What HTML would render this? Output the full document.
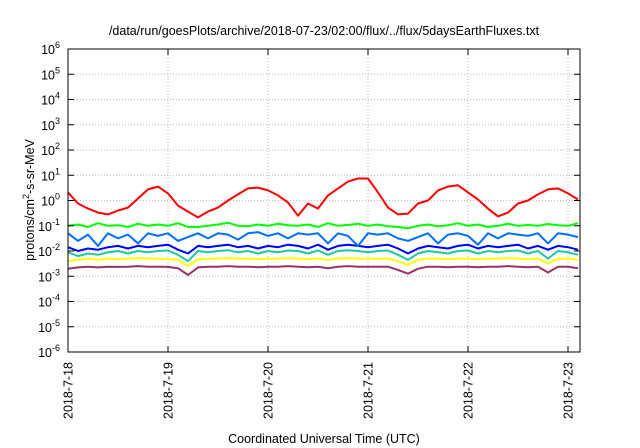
<!DOCTYPE html>
<html><head><meta charset="utf-8"><style>
html,body{margin:0;padding:0;background:#fff;}
svg{display:block;font-family:"Liberation Sans",Arial,sans-serif;}
</style></head><body>
<svg id="chart" width="640" height="448" viewBox="0 0 640 448" xmlns="http://www.w3.org/2000/svg">
<text x="324" y="35" font-size="12.5" text-anchor="middle" fill="#000">/data/run/goesPlots/archive/2018-07-23/02:00/flux/../flux/5daysEarthFluxes.txt</text>
<text x="324" y="443" font-size="12.5" text-anchor="middle" fill="#000">Coordinated Universal Time (UTC)</text>
<text transform="translate(34,200) rotate(-90)" font-size="12.5" text-anchor="middle" fill="#000">protons/cm<tspan baseline-shift="super" font-size="9">2</tspan>-s-sr-MeV</text>
<g id="grid"></g>
<g id="series"></g>
<rect x="68" y="49" width="512" height="303" fill="none" stroke="#000" stroke-width="1"/>
<g id="axes"></g>
</svg>
<script>
const xTickLabels = ["2018-7-18","2018-7-19","2018-7-20","2018-7-21","2018-7-22","2018-7-23"];
const yExponents = [-6,-5,-4,-3,-2,-1,0,1,2,3,4,5,6];
const timeStep = 0.1;
const red = [0.32,-0.12,-0.32,-0.48,-0.55,-0.4,-0.28,0.08,0.44,0.55,0.28,-0.2,-0.44,-0.67,-0.44,-0.28,0,0.24,0.48,0.51,0.4,0.2,-0.08,-0.6,-0.12,-0.32,0.2,0.48,0.75,0.87,0.87,0.32,-0.28,-0.55,-0.52,-0.12,0,0.4,0.55,0.6,0.32,0.04,-0.32,-0.63,-0.48,-0.12,0,0.24,0.44,0.48,0.28,0.04];
const green = [-1.0,-0.95,-1.05,-0.9,-1.0,-0.98,-1.05,-0.92,-1.0,-0.95,-1.0,-0.9,-1.05,-1.05,-1.0,-0.95,-0.88,-1.0,-1.02,-0.95,-1.0,-0.92,-0.98,-1.0,-0.95,-1.05,-0.9,-1.0,-0.97,-0.92,-1.0,-0.95,-1.02,-1.05,-1.1,-1.0,-0.95,-1.02,-0.98,-0.9,-1.0,-0.95,-1.05,-1.0,-0.92,-1.0,-0.97,-1.0,-0.93,-0.98,-1.0,-0.9];
const lightBlue = [-1.3,-1.6,-1.35,-1.8,-1.3,-1.5,-1.35,-1.7,-1.3,-1.4,-1.3,-1.6,-1.45,-1.3,-1.5,-1.3,-1.35,-1.55,-1.3,-1.25,-1.4,-1.3,-1.5,-1.3,-1.35,-1.3,-1.7,-1.3,-1.4,-1.8,-1.3,-1.35,-1.3,-1.5,-1.6,-1.45,-1.3,-1.7,-1.35,-1.3,-1.4,-1.75,-1.3,-1.5,-1.3,-1.35,-1.4,-1.3,-1.7,-1.3,-1.35,-1.45];
const blue = [-1.85,-2.0,-1.9,-1.95,-1.85,-1.8,-1.9,-1.8,-1.85,-1.8,-1.75,-1.95,-2.1,-1.8,-1.85,-1.8,-1.75,-1.85,-1.8,-1.9,-1.8,-1.85,-1.75,-1.8,-1.9,-1.75,-1.95,-1.8,-1.75,-1.8,-1.85,-1.8,-1.75,-1.9,-2.1,-1.9,-1.8,-1.85,-1.9,-1.8,-1.75,-1.9,-1.8,-1.85,-1.8,-1.75,-1.9,-1.8,-1.95,-1.8,-1.85,-1.95];
const teal = [-2.05,-2.2,-2.1,-2.15,-2.05,-2.0,-2.1,-2.0,-2.05,-2.0,-1.98,-2.15,-2.4,-2.0,-2.05,-2.0,-1.97,-2.05,-2.0,-2.1,-2.0,-2.05,-1.98,-2.0,-2.1,-1.98,-2.15,-2.0,-1.97,-2.0,-2.05,-2.0,-1.98,-2.15,-2.35,-2.1,-2.0,-2.05,-2.1,-2.0,-1.98,-2.1,-2.0,-2.05,-2.0,-1.98,-2.1,-2.0,-2.3,-2.0,-2.05,-2.15];
const yellow = [-2.4,-2.35,-2.3,-2.35,-2.3,-2.32,-2.3,-2.28,-2.3,-2.3,-2.32,-2.35,-2.6,-2.33,-2.3,-2.3,-2.28,-2.3,-2.3,-2.32,-2.3,-2.3,-2.28,-2.3,-2.32,-2.3,-2.35,-2.3,-2.28,-2.3,-2.3,-2.3,-2.3,-2.4,-2.55,-2.35,-2.3,-2.3,-2.32,-2.3,-2.3,-2.32,-2.3,-2.3,-2.28,-2.3,-2.32,-2.3,-2.5,-2.3,-2.3,-2.35];
const purple = [-2.7,-2.65,-2.62,-2.65,-2.62,-2.63,-2.62,-2.6,-2.62,-2.62,-2.63,-2.68,-2.95,-2.65,-2.62,-2.62,-2.6,-2.62,-2.62,-2.64,-2.62,-2.62,-2.6,-2.62,-2.64,-2.62,-2.68,-2.62,-2.6,-2.62,-2.62,-2.62,-2.62,-2.75,-2.9,-2.7,-2.62,-2.62,-2.64,-2.62,-2.62,-2.64,-2.62,-2.62,-2.6,-2.62,-2.64,-2.62,-2.85,-2.62,-2.62,-2.68];

const X0=68, X1=580, Y0=49, Y1=352, DAYW=100;
function xScale(t){return X0 + t*DAYW;}
function yScale(lg){return Y1 - (lg - (-6))*(Y1-Y0)/12;}
const NS="http://www.w3.org/2000/svg";
function mk(tag){return document.createElementNS(NS,tag);}
const grid=document.getElementById('grid'), axes=document.getElementById('axes'), ser=document.getElementById('series');

yExponents.forEach(e=>{
  const y=yScale(e);
  if(e>-6 && e<6){
    const g=mk('line');
    
    
    g.setAttribute('x1',X0);g.setAttribute('x2',X1);g.setAttribute('y1',y);g.setAttribute('y2',y);
    g.setAttribute('stroke','#bbb');g.setAttribute('stroke-dasharray','1,2');grid.appendChild(g);
  }
  [[X0,X0+6],[X1-6,X1]].forEach(p=>{
    const tk=mk('line');
    
    
    tk.setAttribute('x1',p[0]);tk.setAttribute('x2',p[1]);tk.setAttribute('y1',y);tk.setAttribute('y2',y);
    tk.setAttribute('stroke','#000');axes.appendChild(tk);
  });
  const tx=mk('text');
  
  
  tx.setAttribute('x',X0-8);tx.setAttribute('y',y+5);tx.setAttribute('text-anchor','end');tx.setAttribute('font-size','12.5');
  tx.innerHTML='10<tspan font-size="9" dy="-6">'+e+'</tspan>';
  axes.appendChild(tx);
});

xTickLabels.forEach((lab,i)=>{
  const x=xScale(i);
  if(i>0){
    const g=mk('line');
    
    
    g.setAttribute('x1',x);g.setAttribute('x2',x);g.setAttribute('y1',Y0);g.setAttribute('y2',Y1);
    g.setAttribute('stroke','#bbb');g.setAttribute('stroke-dasharray','1,2');grid.appendChild(g);
  }
  [[Y1-6,Y1],[Y0,Y0+6]].forEach(p=>{
    const tk=mk('line');
    
    
    tk.setAttribute('x1',x);tk.setAttribute('x2',x);tk.setAttribute('y1',p[0]);tk.setAttribute('y2',p[1]);
    tk.setAttribute('stroke','#000');axes.appendChild(tk);
  });
  const tx=mk('text');
  
  
  tx.setAttribute('transform','translate('+(x+4.5)+','+(Y1+10)+') rotate(-90)');
  tx.setAttribute('text-anchor','end');tx.setAttribute('font-size','12.5');
  tx.textContent=lab;axes.appendChild(tx);
});

const seriesList=[[purple,'#993366','series-purple'],[yellow,'#ffff00','series-yellow'],[teal,'#20c8a0','series-teal'],[blue,'#0000ff','series-blue'],[lightBlue,'#0070ff','series-light-blue'],[green,'#00ff00','series-green'],[red,'#ff0000','series-red']];
seriesList.forEach(s=>{
  const pts=s[0].map((v,i)=>{const t=i*timeStep;return xScale(t).toFixed(1)+','+yScale(v).toFixed(1);}).join(' ');
  const pl=mk('polyline');
  
  
  pl.setAttribute('points',pts);pl.setAttribute('fill','none');pl.setAttribute('stroke',s[1]);
  pl.setAttribute('stroke-width','2');pl.setAttribute('stroke-linejoin','round');
  ser.appendChild(pl);
});
</script>
</body></html>
